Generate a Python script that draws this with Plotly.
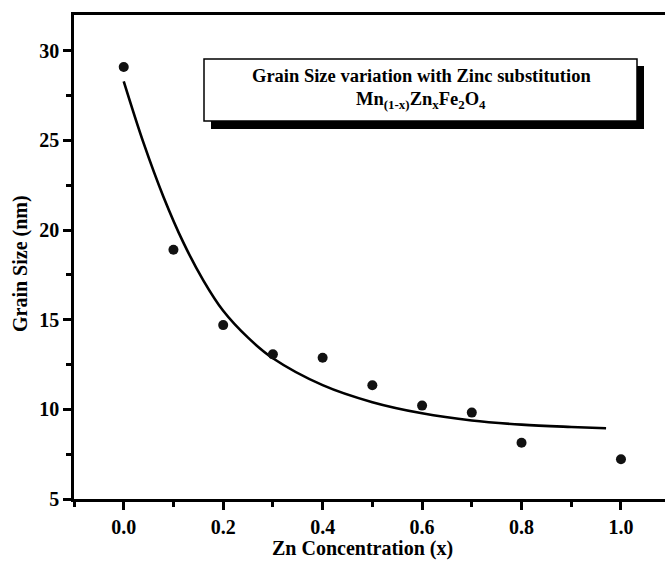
import plotly.graph_objects as go

# Measured data points
zn_x = [0.0, 0.1, 0.2, 0.3, 0.4, 0.5, 0.6, 0.7, 0.8, 1.0]
grain_size = [29.1, 18.9, 14.7, 13.07, 12.88, 11.35, 10.21, 9.82, 8.14, 7.22]

# Fitted curve
fit_x = [0.0, 0.04, 0.08, 0.12, 0.16, 0.2, 0.25, 0.3, 0.4, 0.5, 0.6, 0.7, 0.8, 0.9, 0.97]
fit_y = [28.3, 24.85, 21.85, 19.3, 17.2, 15.5, 14.0, 12.85, 11.35, 10.4, 9.78, 9.38, 9.15, 9.02, 8.95]

x_ticks = [0.0, 0.2, 0.4, 0.6, 0.8, 1.0]
y_ticks = [5, 10, 15, 20, 25, 30]

W, H = 665, 563
L, R, T, B = 74, 0, 15, 64
pw, ph = W - L - R, H - T - B


def px(x):
    return (x - L) / pw


def py(y):
    return (H - B - y) / ph


FONT = "Liberation Serif"

fig = go.Figure()
fig.add_trace(go.Scatter(x=fit_x, y=fit_y, mode="lines",
                         line=dict(color="black", width=2.6, shape="spline", smoothing=1.0),
                         showlegend=False, hoverinfo="skip"))
fig.add_trace(go.Scatter(x=zn_x, y=grain_size, mode="markers",
                         marker=dict(size=10, color="#111111", line=dict(width=0)),
                         showlegend=False))

# shadow box then white box
fig.add_shape(type="rect", xref="paper", yref="paper",
              x0=px(211), x1=px(644), y0=py(129), y1=py(66),
              fillcolor="black", line=dict(width=0), layer="above")
fig.add_shape(type="rect", xref="paper", yref="paper",
              x0=px(204), x1=px(637), y0=py(121), y1=py(59),
              fillcolor="white", line=dict(color="black", width=1.5), layer="above")

fig.add_annotation(text="<b>Grain Size variation with Zinc substitution</b>",
                   xref="paper", yref="paper", x=px(421), y=py(76),
                   showarrow=False, xanchor="center", yanchor="middle",
                   font=dict(family=FONT, size=18.5, color="black"))
fig.add_annotation(text="<b>Mn<sub>(1-x)</sub>Zn<sub>x</sub>Fe<sub>2</sub>O<sub>4</sub></b>",
                   xref="paper", yref="paper", x=px(421), y=py(101),
                   showarrow=False, xanchor="center", yanchor="middle",
                   font=dict(family=FONT, size=18.5, color="black"))

# axis titles
fig.add_annotation(text="<b>Zn Concentration (x)</b>", xref="paper", yref="paper",
                   x=px(362), y=py(548), showarrow=False,
                   xanchor="center", yanchor="middle",
                   font=dict(family=FONT, size=20, color="black"))
fig.add_annotation(text="<b>Grain Size (nm)</b>", xref="paper", yref="paper",
                   x=px(20), y=py(264), showarrow=False, textangle=-90,
                   xanchor="center", yanchor="middle",
                   font=dict(family=FONT, size=20, color="black"))

axis_font = dict(family=FONT, size=20, color="black", weight="bold")
fig.update_xaxes(range=[-0.1, (W - 124) / 497], tickvals=x_ticks,
                 tickformat=".1f", ticks="outside", ticklen=8, tickwidth=2.5,
                 tickcolor="black", showline=True, linewidth=2.5, linecolor="black",
                 mirror=True, showgrid=False, zeroline=False, tickfont=axis_font,
                 minor=dict(dtick=0.1, tick0=0, ticks="outside", ticklen=5,
                            tickwidth=2.5, tickcolor="black", showgrid=False))
fig.update_yaxes(range=[5, 32], tickvals=y_ticks, ticks="outside", ticklen=8,
                 tickwidth=2.5, tickcolor="black", showline=True, linewidth=2.5,
                 linecolor="black", showgrid=False, zeroline=False, tickfont=axis_font,
                 minor=dict(dtick=2.5, tick0=5, ticks="outside", ticklen=5,
                            tickwidth=2.5, tickcolor="black", showgrid=False))

fig.update_layout(width=W, height=H, margin=dict(l=L, r=R, t=T, b=B, autoexpand=False),
                  plot_bgcolor="white", paper_bgcolor="white",
                  font=dict(family=FONT))

fig.write_html("out.html")
